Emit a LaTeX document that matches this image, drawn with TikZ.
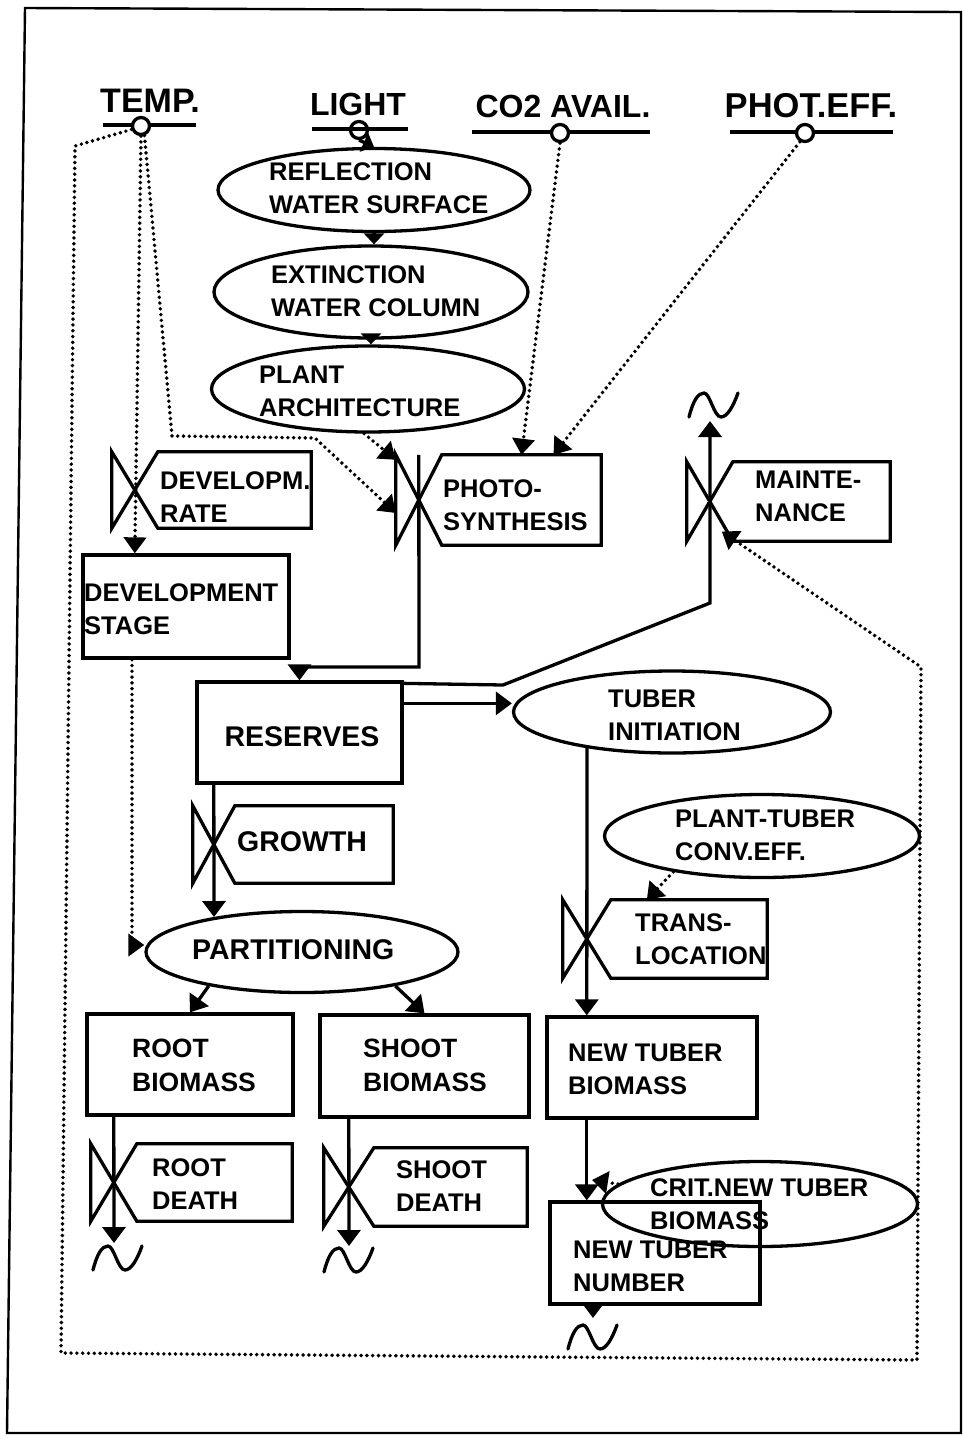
\documentclass[tikz,border=0pt]{standalone}
\usepackage{fontspec}
\setmainfont{Liberation Sans}
\usetikzlibrary{arrows.meta,shapes.geometric,calc}
\newcommand\valveshape[2]{%
  \draw[ln, line join=miter] (#1.north west) -- (#1.north east) -- (#1.south east) -- (#1.south west) -- ([xshift=-#2pt]#1.west) -- cycle
    ([xshift=-#2pt]#1.west) -- ([xshift=-2*#2pt]#1.north west) -- ([xshift=-2*#2pt]#1.south west) -- cycle;}
\begin{document}
\begin{tikzpicture}[x=1pt,y=-1pt,
  ln/.style={line width=3.3pt},
  flow/.style={ln, -{Triangle[length=16pt,width=23pt]}},
  flowS/.style={ln, -{Triangle[length=11pt,width=20pt]}},
  info/.style={line width=3.9pt, dash pattern=on 0pt off 5.8pt, line cap=round, -{Triangle[length=16pt,width=22pt]}},
  ell/.style={ellipse, draw, line width=3.3pt, inner sep=0pt},
  box/.style={rectangle, draw, line width=3.3pt, inner sep=0pt},
  vlab/.style={rectangle, inner sep=0pt},
  txt/.style={font=\fontsize{25.5}{33}\selectfont\bfseries, inner sep=0pt, align=left, anchor=west},
  mid/.style={font=\fontsize{26.5}{34}\selectfont\bfseries},
  big/.style={font=\fontsize{28.5}{33}\selectfont\bfseries},
  var/.style={font=\fontsize{32}{36}\selectfont\bfseries, inner sep=0pt, anchor=base},
  knob/.style={circle, draw, line width=3.3pt, minimum size=17pt, inner sep=0pt, fill=white},
  wavy/.pic={\draw[ln, line cap=round] (-24,12) .. controls (-20,-4) and (-15,-12) .. (-9,-12) .. controls (-3,-12) and (1,12) .. (8,12) .. controls (14,12) and (20,2) .. (25,-12);}
]
\useasboundingbox (0,0) rectangle (963,1438);
% frame
\draw[line width=2.4pt] (25,8) -- (961,12) -- (961,1433) -- (7,1433) -- cycle;

% ---- environmental variables
\draw[ln] (103,125) -- (196,125);
\draw[ln] (472,132) -- (650,132);
\draw[ln] (730,132) -- (893,132);
\node[var, font=\fontsize{34}{36}\selectfont\bfseries] (tempt) at (150,112) {TEMP.};
\node[var] (lightt) at (358,115) {LIGHT};
\node[var] (co2t) at (563,117) {CO2 AVAIL.};
\node[var, font=\fontsize{34.5}{36}\selectfont\bfseries] (phott) at (811,117) {PHOT.EFF.};
\node[knob] (tc) at (141,126) {};
\node[knob] (lc) at (359,130) {};
\draw[ln] (312,129) -- (408,129);
\node[knob] (cc) at (560,133) {};
\node[knob] (pc) at (805,133) {};

% ---- ellipses
\node[ell, minimum width=312pt, minimum height=83pt] (refl) at (374,190) {};
\node[txt] (refl-t) at (269,188) {REFLECTION\\WATER SURFACE};
\node[ell, minimum width=314pt, minimum height=92pt] (ext) at (371,292) {};
\node[txt] (ext-t) at (271,291) {EXTINCTION\\WATER COLUMN};
\node[ell, minimum width=313pt, minimum height=86pt] (plant) at (368,389) {};
\node[txt] (plant-t) at (259,391) {PLANT\\ARCHITECTURE};
\node[ell, minimum width=317pt, minimum height=82pt] (ti) at (672,712) {};
\node[txt] (ti-t) at (608,715) {TUBER\\INITIATION};
\node[ell, minimum width=312pt, minimum height=81pt] (part) at (302,952) {};
\node[txt, big] (part-t) at (192,950) {PARTITIONING};
\node[ell, minimum width=315pt, minimum height=83pt] (pte) at (762,836) {};
\node[txt] (pte-t) at (675,835) {PLANT-TUBER\\CONV.EFF.};

% ---- boxes (levels)
\node[box, minimum width=206pt, minimum height=103pt] (dev) at (186,606.5) {};
\node[txt] (dev-t) at (84,609) {DEVELOPMENT\\STAGE};
\node[box, minimum width=205pt, minimum height=101pt] (res) at (299.5,732.5) {};
\node[txt, big, anchor=center] (res-t) at (302,737) {RESERVES};
\node[box, minimum width=206pt, minimum height=101pt] (root) at (190,1064.5) {};
\node[txt, mid] (root-t) at (132,1065) {ROOT\\BIOMASS};
\node[box, minimum width=209pt, minimum height=102pt] (shoot) at (424.5,1066) {};
\node[txt, mid] (shoot-t) at (363,1065) {SHOOT\\BIOMASS};
\node[box, minimum width=210pt, minimum height=101pt] (ntb) at (652,1067.5) {};
\node[txt] (ntb-t) at (568,1069) {NEW TUBER\\BIOMASS};
\node[box, minimum width=210pt, minimum height=102pt] (ntn) at (655,1253) {};
\node[txt] (ntn-t) at (573,1266) {NEW TUBER\\NUMBER};
\node[ell, minimum width=315pt, minimum height=85pt] (crit) at (760,1204) {};
\node[txt] (crit-t) at (650,1204) {CRIT.NEW TUBER\\BIOMASS};

% ---- valves (rates)
\node[vlab, minimum width=153pt, minimum height=76pt] (dr) at (234.5,490) {};
\valveshape{dr}{23}
\node[txt] (dr-t) at (160,497) {DEVELOPM.\\RATE};
\node[vlab, minimum width=159pt, minimum height=90pt] (ps) at (521.5,500) {};
\valveshape{ps}{23}
\node[txt] (ps-t) at (443,505) {PHOTO-\\SYNTHESIS};
\node[vlab, minimum width=157pt, minimum height=79pt] (mt) at (811.5,501.5) {};
\valveshape{mt}{23}
\node[txt] (mt-t) at (755,496) {MAINTE-\\NANCE};
\node[vlab, minimum width=158pt, minimum height=77pt] (gr) at (314,844.5) {};
\valveshape{gr}{21}
\node[txt, big] (gr-t) at (237,842) {GROWTH};
\node[vlab, minimum width=156pt, minimum height=78pt] (td) at (689,939) {};
\valveshape{td}{24}
\node[txt] (td-t) at (635,939) {TRANS-\\LOCATION};
\node[vlab, minimum width=155pt, minimum height=77pt] (rd) at (214.5,1182.5) {};
\valveshape{rd}{23}
\node[txt] (rd-t) at (152,1184) {ROOT\\DEATH};
\node[vlab, minimum width=153pt, minimum height=78pt] (sd) at (450.5,1187) {};
\valveshape{sd}{25}
\node[txt] (sd-t) at (396,1186) {SHOOT\\DEATH};

\coordinate (drv) at ([xshift=-23pt]dr.west);
\coordinate (psv) at ([xshift=-23pt]ps.west);
\coordinate (mtv) at ([xshift=-23pt]mt.west);
\coordinate (grv) at ([xshift=-21pt]gr.west);
\coordinate (tdv) at ([xshift=-24pt]td.west);
\coordinate (rdv) at ([xshift=-23pt]rd.west);
\coordinate (sdv) at ([xshift=-25pt]sd.west);

% ---- sinks
\coordinate (mw) at (710,421);
\coordinate (nw) at (593,1318);
\coordinate (rw) at (114,1243);
\coordinate (sw) at (349,1246);
\pic at (713,405) {wavy};
\pic at (592,1337) {wavy};
\pic at (117,1258) {wavy};
\pic at (348,1260) {wavy};

% ---- material flows
\draw[flowS] (lc.south) -- (refl.north);
\draw[flowS] (refl.south) -- (refl.south |- ext.north);
\draw[flowS] (ext.south) -- (ext.south |- plant.north);
\coordinate (c1) at (419,667);
\draw[flow] (psv |- ps.north) -- (c1) -| (res.north);
\coordinate (m1) at (503,685);
\coordinate (m2) at (710,603);
\draw[flow] ([yshift=-3pt]res.north east) -- (m1) -- (m2) -- (mw);
\draw[flow] ([yshift=-23pt]res.north east) coordinate (r1) -- (r1 -| ti.west);
\coordinate (tiout) at (587,747);
\draw[flow] (tiout) -- (tdv |- ntb.north);
\draw[flow] (tdv |- ntb.south) -- (tdv |- ntn.north);
\draw[flow] (ntn.south -| nw) -- (nw);
\coordinate (gin) at (214,917);
\draw[flow] (grv |- res.south) -- (gin);
\draw[flow] (part.-160) -- (root.north);
\draw[flow] (part.-20) -- (shoot.north);
\draw[flow] (rdv |- root.south) -- (rw);
\draw[flow] (sdv |- shoot.south) -- (sw);

% ---- information flows
\draw[info] (tc.south) -- (drv |- dev.north);
\coordinate (t1) at (172,436);
\coordinate (t2) at (315,438);
\draw[info] (tc.-70) -- (t1) -- (t2) -- ([xshift=-46pt,yshift=-13pt]ps.west);
\coordinate (l1) at (75,146);
\coordinate (l2) at (61,1353);
\coordinate (l3) at (917,1360);
\coordinate (l4) at (921,667);
\draw[info] (tc.200) -- (l1) -- (l2) -- (l3) -- (l4) -- ([xshift=12pt,yshift=-30pt]mtv);
\draw[info] (cc.south) -- (ps.north);
\draw[info] (pc.-120) -- ([xshift=32pt]ps.north);
\draw[info] (plant.-95) -- ([xshift=-46pt,yshift=-5pt]ps.north west);
\draw[info] ([xshift=-54pt]dev.south) |- ([yshift=7pt]part.west);
\draw[info] (pte.-158) -- ([xshift=36pt]td.north west);
\coordinate (ci) at (592,1180);
\draw[info] (crit.172) -- (ci);
\end{tikzpicture}
\end{document}
